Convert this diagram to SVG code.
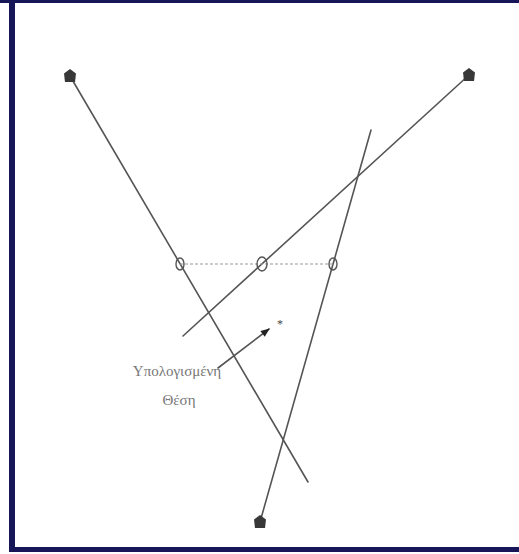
<svg xmlns="http://www.w3.org/2000/svg" width="519" height="554" viewBox="0 0 519 554">
<style>
.frame{fill:#161658}
.ln{stroke:#555;stroke-width:1.6;fill:none;stroke-linecap:round}
.dash{stroke:#9a9a9a;stroke-width:1.2;stroke-dasharray:3 2;fill:none}
.ring{stroke:#555;stroke-width:1.4;fill:none}
.tower{fill:#383838}
.lbl{font-family:"Liberation Serif",serif;font-size:15px;fill:#777}
</style>
<defs>
<marker id="ah" viewBox="0 0 10 10" refX="9" refY="5" markerWidth="10" markerHeight="9" markerUnits="userSpaceOnUse" orient="auto">
<path d="M0,1 L10,5 L0,9 Z" fill="#222"/>
</marker>
<path id="tw" d="M0,-7 L6,-2.5 L5,6 L-5,6 L-6,-2.5 Z"/>
</defs>
<rect width="519" height="554" fill="#fff"/>
<rect class="frame" x="0" y="0" width="519" height="3"/>
<rect class="frame" x="9" y="0" width="6" height="552"/>
<rect class="frame" x="9" y="547" width="510" height="5"/>
<g id="connectors">
<line class="ln" x1="70" y1="76" x2="308" y2="482"/>
<line class="ln" x1="469" y1="75" x2="183" y2="336"/>
<line class="ln" x1="260" y1="522" x2="371" y2="130"/>
<line class="dash" x1="180" y1="264" x2="333" y2="264"/>
<line class="ln" x1="218" y1="368" x2="269" y2="329" marker-end="url(#ah)"/>
</g>
<g id="tower-top-left"><use href="#tw" class="tower" x="70" y="76"/></g>
<g id="tower-top-right"><use href="#tw" class="tower" x="469" y="75"/></g>
<g id="tower-bottom"><use href="#tw" class="tower" x="260" y="522"/></g>
<g id="circle-left"><ellipse class="ring" cx="180" cy="264" rx="4" ry="6"/></g>
<g id="circle-mid"><ellipse class="ring" cx="262" cy="264" rx="5" ry="7"/></g>
<g id="circle-right"><ellipse class="ring" cx="333" cy="264" rx="4" ry="6"/></g>
<g id="star"><text x="277" y="328" font-family="Liberation Serif, serif" font-size="12" fill="#444">*</text></g>
<g id="label">
<text class="lbl" x="177" y="376" text-anchor="middle">Υπολογισμένη</text>
<text class="lbl" x="179" y="405" text-anchor="middle">Θέση</text>
</g>
</svg>
